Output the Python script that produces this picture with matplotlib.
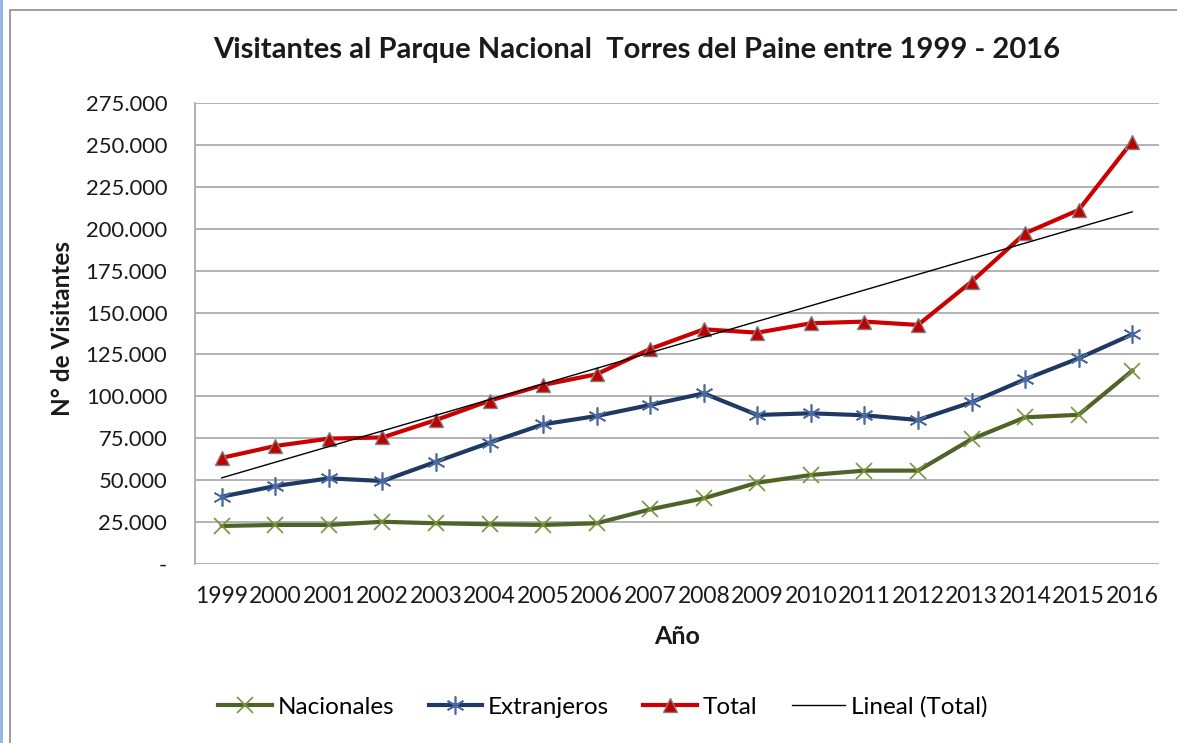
import numpy as np
import matplotlib
matplotlib.use("Agg")
import matplotlib.pyplot as plt
from matplotlib.patches import Rectangle
from matplotlib.lines import Line2D
from matplotlib.ticker import FuncFormatter

years = [str(y) for y in range(1999, 2017)]
nacionales = [22700, 23300, 23300, 25200, 24300, 23700, 23300, 24300, 32600, 39200,
              48500, 53100, 55700, 55700, 74500, 87500, 89000, 115300]
extranjeros = [40200, 46500, 51100, 49500, 61000, 72400, 83300, 88300, 94900, 101800,
               88900, 89900, 88700, 85900, 96500, 110200, 122700, 137000]
total = [63300, 70400, 74800, 75500, 85900, 97400, 106800, 113200, 128300, 140000,
         138000, 143600, 144600, 142600, 168400, 197300, 211200, 252000]
yticks = [0, 25000, 50000, 75000, 100000, 125000, 150000, 175000, 200000, 225000, 250000, 275000]

plt.rcParams['font.family'] = ['Lato', 'DejaVu Sans']

W, H = 1177, 743
fig = plt.figure(figsize=(W / 100, H / 100), dpi=100)

# chart frame
fig.patches.append(Rectangle((10 / W, -0.1), 1.2, (H - 10) / H + 0.1, transform=fig.transFigure,
                             fill=False, edgecolor='#8c8c8c', linewidth=1.2, zorder=0))
fig.add_artist(Line2D([1 / W, 1 / W], [0, 1], transform=fig.transFigure, color='#8db3e2', linewidth=2))

left, right, top, bottom = 195, 1159, 103, 564
ax = fig.add_axes([left / W, 1 - bottom / H, (right - left) / W, (bottom - top) / H])

x = np.arange(len(years))
ax.plot(x, nacionales, color='#4f6228', linewidth=3, marker='x', markersize=11,
        markeredgecolor='#77933c', markeredgewidth=1.2, label='Nacionales', zorder=3)
ax.plot(x, extranjeros, color='#1f3864', linewidth=3, marker=(6, 2, 0), markersize=13,
        markeredgecolor='#4a6aa0', markeredgewidth=1.2, label='Extranjeros', zorder=3)
ax.plot(x, total, color='#cc0000', linewidth=3, marker='^', markersize=10,
        markerfacecolor='#c00000', markeredgecolor='#7f7f7f', markeredgewidth=1,
        label='Total', zorder=4)
coef = np.polyfit(x, total, 1)
ax.plot(x, np.polyval(coef, x), color='black', linewidth=1, label='Lineal (Total)', zorder=5)

ax.set_xlim(-0.5, len(years) - 0.5)
ax.set_ylim(0, 275000)
ax.set_yticks(yticks)
ax.yaxis.set_major_formatter(FuncFormatter(
    lambda v, p: '-' if v == 0 else f"{int(v):,}".replace(',', '.')))
ax.set_xticks(x)
ax.set_xticklabels(years)
ax.grid(axis='y', color='#a6a6a6', linewidth=1.2)
ax.set_axisbelow(True)
for s in ['top', 'right', 'bottom']:
    ax.spines[s].set_visible(False)
ax.spines['left'].set_color('#a6a6a6')
ax.spines['left'].set_linewidth(1.2)
ax.tick_params(axis='both', length=0, colors='#1a1a1a')
ax.tick_params(axis='x', pad=16, labelsize=16.5)
ax.tick_params(axis='y', pad=20, labelsize=15.8)
for lbl in ax.get_yticklabels():
    lbl.set_horizontalalignment('right')

fig.text(637 / W, 1 - 50 / H, 'Visitantes al Parque Nacional  Torres del Paine entre 1999 - 2016',
         ha='center', va='center', fontsize=21, fontweight='bold', color='#1a1a1a')
fig.text(63 / W, 1 - 328 / H, 'N° de Visitantes', rotation=90, ha='center', va='center',
         fontsize=17.5, fontweight='bold', color='#1a1a1a')
fig.text(677 / W, 1 - 637 / H, 'Año', ha='center', va='center',
         fontsize=18, fontweight='bold', color='#1a1a1a')

leg = fig.legend(loc='center', bbox_to_anchor=(603 / W, 1 - 707 / H), ncol=4, frameon=False,
                 fontsize=17.5, handlelength=2.2, columnspacing=1.4, handletextpad=0.25)

fig.savefig('out.png', dpi=100)
